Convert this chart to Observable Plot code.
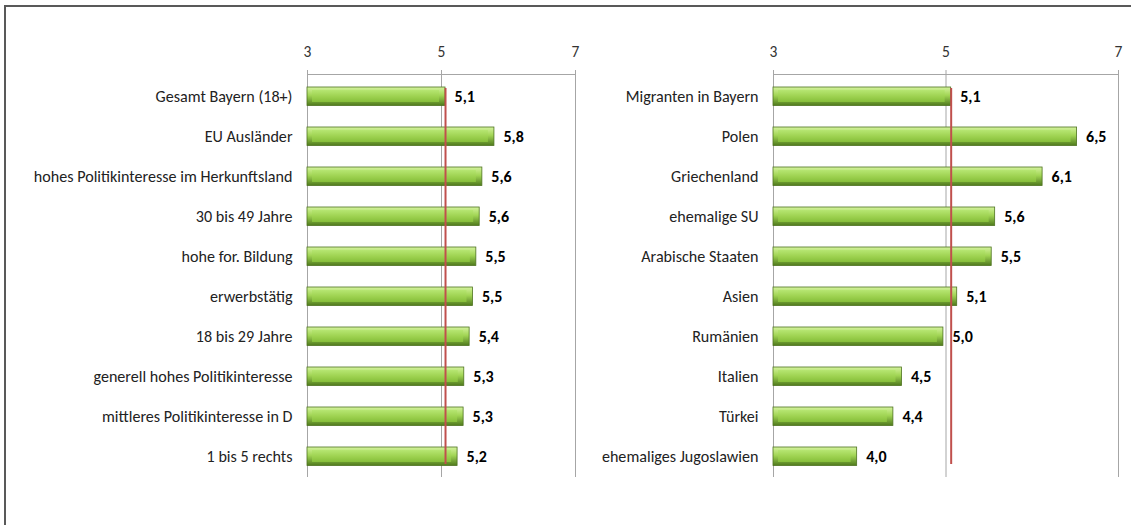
<!DOCTYPE html>
<html><head><meta charset="utf-8">
<script src="https://cdn.jsdelivr.net/npm/d3@7"></script>
<script src="https://cdn.jsdelivr.net/npm/@observablehq/plot@0.6"></script>
<style>
body{margin:0;background:#fff;width:1131px;height:525px;overflow:hidden;position:relative;}
#frame{position:absolute;left:4px;top:5px;width:1200px;height:600px;border-left:2px solid #595959;border-top:2px solid #595959;}
#left{position:absolute;left:0;top:0}
#right{position:absolute;left:600px;top:0}
svg g[aria-label="x-axis tick label"]{font-size:15.5px;}
svg g[aria-label="y-axis tick label"]{font-size:16.1px;}
svg g[aria-label="text"]{font-size:16px;}
</style></head><body>
<div id="frame"></div><div id="left"></div><div id="right"></div>
<script>
const leftCategories = ["Gesamt Bayern (18+)", "EU Ausländer", "hohes Politikinteresse im Herkunftsland", "30 bis 49 Jahre", "hohe for. Bildung", "erwerbstätig", "18 bis 29 Jahre", "generell hohes Politikinteresse", "mittleres Politikinteresse in D", "1 bis 5 rechts"];
const leftValues = [5.06, 5.79, 5.61, 5.57, 5.52, 5.47, 5.42, 5.34, 5.33, 5.24];
const rightCategories = ["Migranten in Bayern", "Polen", "Griechenland", "ehemalige SU", "Arabische Staaten", "Asien", "Rumänien", "Italien", "Türkei", "ehemaliges Jugoslawien"];
const rightValues = [5.06, 6.52, 6.12, 5.57, 5.53, 5.13, 4.97, 4.49, 4.39, 3.97];
const referenceValue = 5.06;
const xTicks = [3, 5, 7];
const fontFamily = "Carlito, Calibri, 'Liberation Sans', sans-serif";
const fmt = v => d3.format(".1f")(v).replace(".", ",");

function panel(cats, vals, width, marginLeft, marginRight, id) {
  const data = cats.map((c, i) => ({c, v: vals[i]}));
  const chart = Plot.plot({
    width, height: 500, marginLeft, marginRight, marginTop: 74, marginBottom: 23,
    style: {fontFamily, fontSize: "16px", color: "#222", background: "transparent"},
    x: {domain: [3, 7], label: null, axis: null},
    y: {domain: cats, padding: 0, label: null, axis: null},
    marks: [
      Plot.ruleX(xTicks, {stroke: "#a6a6a6", strokeWidth: 1}),
      Plot.frame({anchor: "top", stroke: "#a6a6a6"}),
      Plot.axisX(xTicks, {anchor: "top", tickSize: 5, tickPadding: 13, stroke: "#a6a6a6", color: "#333", label: null, tickFormat: d => String(d)}),
      Plot.axisY({anchor: "left", tickSize: 0, tickPadding: 15, color: "#222", label: null}),
      Plot.barX(data, {y: "c", x1: 3, x2: "v", insetTop: 11, insetBottom: 10.5, fill: `url(#outer-${id})`, stroke: "#4e7320", strokeWidth: 0.8}),
      Plot.barX(data, {y: "c", x1: 3, x2: "v", insetTop: 14, insetBottom: 14, insetLeft: 5, insetRight: 6, fill: `url(#inner-${id})`}),
      Plot.ruleX([{x: referenceValue, y1: cats[0], y2: cats[cats.length - 1]}], {x: "x", y1: "y1", y2: "y2", stroke: "#c0504d", strokeWidth: 2, insetTop: 12, insetBottom: 12}),
      Plot.text(data, {y: "c", x: "v", text: d => fmt(d.v), dx: 9, textAnchor: "start", fontWeight: "bold", fill: "#000"})
    ]
  });
  d3.select(chart).insert("defs", ":first-child").html(`
    <linearGradient id="outer-${id}" x1="0" y1="0" x2="0" y2="1">
      <stop offset="0" stop-color="#d4f29e"/>
      <stop offset="0.45" stop-color="#a2d655"/>
      <stop offset="1" stop-color="#4f7a1c"/>
    </linearGradient>
    <linearGradient id="inner-${id}" x1="0" y1="0" x2="0" y2="1">
      <stop offset="0" stop-color="#b6e672"/>
      <stop offset="0.5" stop-color="#9fd352"/>
      <stop offset="1" stop-color="#86be3a"/>
    </linearGradient>`);
  return chart;
}

document.getElementById("left").appendChild(panel(leftCategories, leftValues, 590, 307, 15, "l"));
document.getElementById("right").appendChild(panel(rightCategories, rightValues, 531, 173, 13, "r"));
</script>
</body></html>
